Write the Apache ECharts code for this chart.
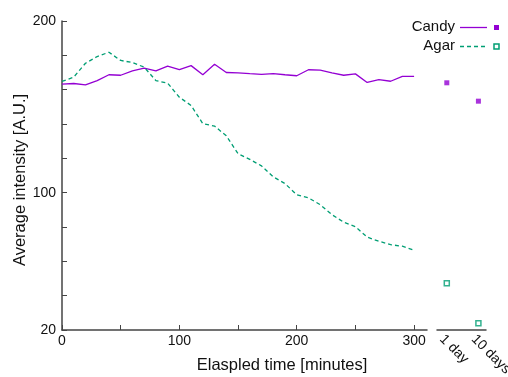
<!DOCTYPE html>
<html><head><meta charset="utf-8">
<script src="https://cdn.jsdelivr.net/npm/echarts@6/dist/echarts.min.js"></script>
<style>html,body{margin:0;padding:0;background:#fff}#c{width:508px;height:377px}</style>
</head><body><div id="c"></div>
<script>
var times = [0,10,20,30,40,50,60,70,80,90,100,110,120,130,140,150,160,170,180,190,200,210,220,230,240,250,260,270,280,290,300];
var candy = [163.2,163.6,162.8,165.3,168.7,168.4,171,172.5,171,173.7,171.7,174,168.7,174.8,170,169.8,169.3,168.9,169.4,168.7,168.1,171.6,171.4,169.8,168.4,169.2,164.2,165.9,164.9,167.7,167.7];
var agar = [164.8,167.3,175.4,179.3,181.8,177,175.8,173.1,165.3,163.8,155.6,150.8,140.2,138.8,133.1,122.7,119.4,115.6,109.2,105.3,98.8,97,93,87.2,82.8,80.2,74.1,71.7,69.7,68.8,66.5];
var laterCats = ['1 day','10 days'];
var candyLater = [164, 153.3];
var agarLater = [47.2, 23.9];
var yLabels = [20,100,200];
var xLabels = [0,100,200,300];

var purple = '#9400D3', green = '#009E73', axisCol = '#444';
var font = 'Liberation Sans, Arial, sans-serif';
var chart = echarts.init(document.getElementById('c'), null, {renderer:'canvas'});
var axisCommon = {
  axisLine:{show:true, lineStyle:{color:axisCol, width:1.5}},
  splitLine:{show:false}
};
chart.setOption({
  animation:false,
  grid:[
    {left:62, top:21, width:365, height:309, containLabel:false, outerBoundsMode:'none'},
    {left:437, top:21, width:49, height:309, containLabel:false, outerBoundsMode:'none'}
  ],
  xAxis:[
    Object.assign({type:'value', gridIndex:0, min:0, max:311, interval:50,
      axisTick:{show:true, inside:true, length:5, lineStyle:{color:axisCol, width:1}, customValues:[0,50,100,150,200,250,300]},
      axisLabel:{color:'#111', fontSize:14, fontFamily:font, margin:4, customValues:xLabels, formatter:function(v){return String(v);}}
    }, axisCommon),
    Object.assign({type:'value', gridIndex:1, min:0.69, max:2.24,
      axisTick:{show:false},
      axisLabel:{color:'#111', fontSize:14, fontFamily:font, rotate:-45, margin:2, verticalAlign:'top', customValues:[1,2], formatter:function(v){return laterCats[Math.round(v)-1];}}
    }, axisCommon)
  ],
  yAxis:[
    Object.assign({type:'value', gridIndex:0, min:20, max:200, interval:20,
      axisTick:{show:true, inside:true, length:5, lineStyle:{color:axisCol, width:1}},
      axisLabel:{color:'#111', fontSize:14, fontFamily:font, margin:6, formatter:function(v){return yLabels.indexOf(v)>=0?String(v):'';}}
    }, axisCommon),
    {type:'value', gridIndex:1, min:20, max:200, show:false}
  ],
  series:[
    {name:'Candy', type:'line', xAxisIndex:0, yAxisIndex:0, data:times.map(function(t,i){return [t,candy[i]];}),
      showSymbol:false, lineStyle:{color:purple, width:1.3}},
    {name:'Agar', type:'line', xAxisIndex:0, yAxisIndex:0, data:times.map(function(t,i){return [t,agar[i]];}),
      showSymbol:false, lineStyle:{color:green, width:1.3, type:[4,3]}},
    {name:'Candy later', type:'scatter', xAxisIndex:1, yAxisIndex:1, data:candyLater.map(function(v,i){return [i+1,v];}),
      symbol:'rect', symbolSize:5, itemStyle:{color:purple}},
    {name:'Agar later', type:'scatter', xAxisIndex:1, yAxisIndex:1, data:agarLater.map(function(v,i){return [i+1,v];}),
      symbol:'rect', symbolSize:5, itemStyle:{color:'#fff', borderColor:green, borderWidth:1.5}}
  ],
  graphic:[
    {type:'text', x:282, y:365, style:{text:'Elaspled time [minutes]', font:'16.5px '+font, fill:'#111', align:'center', verticalAlign:'middle'}},
    {type:'text', x:20, y:180, rotation:Math.PI/2, style:{text:'Average intensity [A.U.]', font:'16.5px '+font, fill:'#111', align:'center', verticalAlign:'middle'}},
    {type:'text', x:455, y:27, style:{text:'Candy', font:'15px '+font, fill:'#111', align:'right', verticalAlign:'middle'}},
    {type:'text', x:455, y:46, style:{text:'Agar', font:'15px '+font, fill:'#111', align:'right', verticalAlign:'middle'}},
    {type:'line', shape:{x1:460, y1:27.5, x2:487, y2:27.5}, style:{stroke:purple, lineWidth:1.3}},
    {type:'line', shape:{x1:460, y1:46.5, x2:487, y2:46.5}, style:{stroke:green, lineWidth:1.3, lineDash:[4,3]}},
    {type:'rect', shape:{x:494, y:25, width:5, height:5}, style:{fill:purple}},
    {type:'rect', shape:{x:494, y:44, width:5, height:5}, style:{fill:'#fff', stroke:green, lineWidth:1.5}}
  ]
});
</script></body></html>
